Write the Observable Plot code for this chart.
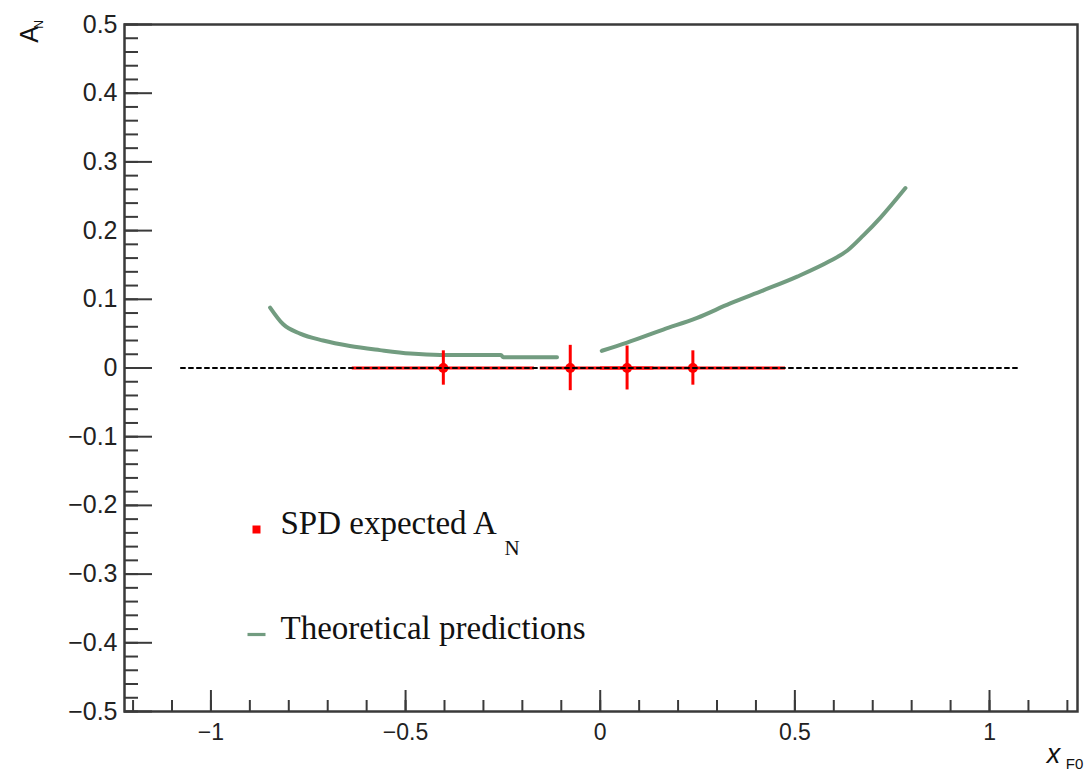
<!DOCTYPE html>
<html>
<head>
<meta charset="utf-8">
<script src="https://cdn.jsdelivr.net/npm/d3@7"></script>
<script src="https://cdn.jsdelivr.net/npm/@observablehq/plot@0.6"></script>
<style>
  html, body { margin: 0; padding: 0; background: #fff; }
  #chart svg { display: block; }
</style>
</head>
<body>
<div id="chart"></div>
<script>
// ---- data ----
const pointX    = [-0.403, -0.077, 0.069, 0.238];
const pointY    = [0, 0, 0, 0];
const pointXErr = [0.234, 0.077, 0.069, 0.238];
const pointYErr = [0.025, 0.033, 0.032, 0.025];

const theoryLeftX  = [-0.848, -0.815, -0.771, -0.712, -0.643, -0.566, -0.488, -0.411, -0.326, -0.255, -0.249, -0.111];
const theoryLeftY  = [0.088, 0.064, 0.050, 0.040, 0.032, 0.026, 0.021, 0.019, 0.019, 0.019, 0.0155, 0.0155];
const theoryRightX = [0.004, 0.069, 0.162, 0.249, 0.334, 0.419, 0.506, 0.591, 0.635, 0.676, 0.720, 0.784];
const theoryRightY = [0.025, 0.037, 0.056, 0.073, 0.094, 0.113, 0.133, 0.156, 0.171, 0.193, 0.219, 0.262];

const zeroLineX = [-1.077, 1.072];
const zeroLineY = [0, 0];

const xTickLabels = [-1, -0.5, 0, 0.5, 1];
const yTickLabels = [0.5, 0.4, 0.3, 0.2, 0.1, 0, -0.1, -0.2, -0.3, -0.4, -0.5];
const xMinorTicks = d3.range(-12, 13).map(i => i / 10);
const yMinorTicks = d3.range(-25, 26).map(i => i / 50);

const legendLabels = ["SPD expected A", "Theoretical predictions"];

// ---- build tables ----
const points = pointX.map((x, i) => ({x, y: pointY[i], xe: pointXErr[i], ye: pointYErr[i]}));
const theoryLeft = theoryLeftX.map((x, i) => ({x, y: theoryLeftY[i]}));
const theoryRight = theoryRightX.map((x, i) => ({x, y: theoryRightY[i]}));
const zeroLine = zeroLineX.map((x, i) => ({x, y: zeroLineY[i]}));

const W = 1085, H = 773;
const mL = 124, mR = 8, mT = 24, mB = 62;
const frameW = W - mL - mR, frameH = H - mT - mB;

const RED = "#ff0000";
const GREEN = "#729c80";
const AXIS = "#3a3a3a";
const sans = "Liberation Sans, Arial, Helvetica, sans-serif";
const serif = "Liberation Serif, Times New Roman, serif";

const fmt = d => d === 0 ? "0" : d3.format("~g")(d);

const lineSymbol = {draw(ctx) { ctx.rect(-9, -1.6, 18, 3.2); }};
const squareSymbol = {draw(ctx) { ctx.rect(-4, -4, 8, 8); }};

const chart = Plot.plot({
  width: W, height: H,
  marginLeft: mL, marginRight: mR, marginTop: mT, marginBottom: mB,
  x: {domain: [-1.222, 1.226]},
  y: {domain: [-0.5, 0.5]},
  marks: [
    // minor/major ticks inside the frame
    Plot.tickX(xMinorTicks, {x: d => d, insetTop: frameH - 11, stroke: AXIS, strokeWidth: 2}),
    Plot.tickX(xTickLabels, {x: d => d, insetTop: frameH - 21, stroke: AXIS, strokeWidth: 2}),
    Plot.tickY(yMinorTicks, {y: d => d, insetRight: frameW - 14, stroke: AXIS, strokeWidth: 2}),
    Plot.tickY(yTickLabels, {y: d => d, insetRight: frameW - 28, stroke: AXIS, strokeWidth: 2}),
    Plot.axisX(xTickLabels, {tickSize: 0, tickPadding: 12, fontSize: 23, fontFamily: sans, fill: "#222", tickFormat: fmt, label: null}),
    Plot.axisY(yTickLabels, {tickSize: 0, tickPadding: 7, fontSize: 25, fontFamily: sans, fill: "#222", tickFormat: fmt, label: null}),
    // theory curves
    Plot.line(theoryLeft, {x: "x", y: "y", stroke: GREEN, strokeWidth: 4, curve: "monotone-x"}),
    Plot.line(theoryRight, {x: "x", y: "y", stroke: GREEN, strokeWidth: 4, curve: "monotone-x"}),
    // error bars
    Plot.ruleY(points, {y: "y", x1: d => d.x - d.xe, x2: d => d.x + d.xe, stroke: RED, strokeWidth: 3}),
    Plot.ruleX(points, {x: "x", y1: d => d.y - d.ye, y2: d => d.y + d.ye, stroke: RED, strokeWidth: 3}),
    Plot.dot(points, {x: "x", y: "y", r: 5, fill: RED}),
    // dotted zero line
    Plot.line(zeroLine, {x: "x", y: "y", stroke: "#000", strokeWidth: 2, strokeDasharray: "4,4"}),
    Plot.frame({stroke: AXIS, strokeWidth: 2.5}),
    // legend
    Plot.dot([0], {frameAnchor: "top-left", dx: 132, dy: 505, symbol: squareSymbol, fill: RED, stroke: null}),
    Plot.text([legendLabels[0]], {frameAnchor: "top-left", dx: 156, dy: 509, text: d => d, textAnchor: "start", lineAnchor: "bottom", fontSize: 33, fontFamily: serif, fill: "#111"}),
    Plot.text(["N"], {frameAnchor: "top-left", dx: 380, dy: 530, text: d => d, textAnchor: "start", lineAnchor: "bottom", fontSize: 21, fontFamily: serif, fill: "#111"}),
    Plot.dot([0], {frameAnchor: "top-left", dx: 132, dy: 610, symbol: lineSymbol, fill: GREEN, stroke: null}),
    Plot.text([legendLabels[1]], {frameAnchor: "top-left", dx: 156, dy: 614, text: d => d, textAnchor: "start", lineAnchor: "bottom", fontSize: 33, fontFamily: serif, fill: "#111"}),
    // axis titles
    Plot.text(["A"], {frameAnchor: "top-left", dx: -95, dy: 10, text: d => d, rotate: -90, textAnchor: "middle", lineAnchor: "middle", fontSize: 25, fontFamily: sans, fill: "#111"}),
    Plot.text(["N"], {frameAnchor: "top-left", dx: -85, dy: 0, text: d => d, rotate: -90, textAnchor: "middle", lineAnchor: "middle", fontSize: 12, fontFamily: sans, fill: "#111"}),
    Plot.text(["x"], {frameAnchor: "bottom-right", dx: -24, dy: 43, text: d => d, textAnchor: "middle", lineAnchor: "middle", fontSize: 27, fontStyle: "italic", fontFamily: sans, fill: "#111"}),
    Plot.text(["F0"], {frameAnchor: "bottom-right", dx: -3, dy: 53, text: d => d, textAnchor: "middle", lineAnchor: "middle", fontSize: 15, fontFamily: sans, fill: "#111"})
  ]
});
document.getElementById("chart").appendChild(chart);
</script>
</body>
</html>
